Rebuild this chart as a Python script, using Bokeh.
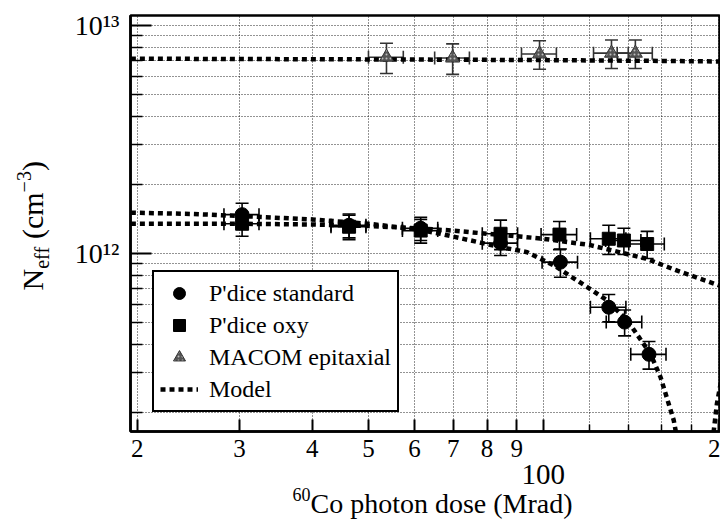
import math
from bokeh.plotting import figure
from bokeh.layouts import gridplot
from bokeh.models import (ColumnDataSource, Whisker, TeeHead, FixedTicker, Legend,
                          LegendItem, Label, Range1d)
from bokeh.embed import file_html
from bokeh.resources import INLINE

FONT = "Liberation Serif"

# ---------------- data ----------------
# P'dice standard (circles)
std_dose = [30.3, 46.3, 61.5, 84.4, 107.0, 129.6, 138.0, 152.0]
std_neff = [1.48e12, 1.33e12, 1.29e12, 1.11e12, 9.16e11, 5.81e11, 5.00e11, 3.61e11]
std_dose_err = [2.1, 3.2, 4.3, 5.9, 7.5, 9.1, 9.7, 10.6]
std_neff_err = [0.18e12, 0.16e12, 0.15e12, 0.13e12, 0.13e12, 0.08e12, 0.065e12, 0.05e12]

# P'dice oxy (squares)
oxy_dose = [30.3, 46.3, 61.5, 84.4, 106.6, 129.6, 137.6, 150.9]
oxy_neff = [1.35e12, 1.31e12, 1.26e12, 1.22e12, 1.21e12, 1.16e12, 1.14e12, 1.10e12]
oxy_dose_err = [2.1, 3.2, 4.3, 5.9, 7.5, 9.1, 9.6, 10.6]
oxy_neff_err = [0.16e12, 0.16e12, 0.15e12, 0.18e12, 0.17e12, 0.17e12, 0.15e12, 0.15e12]

# MACOM epitaxial (triangles)
mac_dose = [53.7, 69.8, 98.5, 131.0, 144.0]
mac_neff = [7.26e12, 7.20e12, 7.50e12, 7.56e12, 7.56e12]
mac_dose_err = [3.7, 4.8, 6.8, 9.0, 10.0]
mac_neff_err = [1.10e12, 1.10e12, 1.07e12, 1.08e12, 1.08e12]

# Model curves
model_std_dose = [19.5, 25, 30, 40, 50, 60, 66.5, 75, 84.4, 93.8, 104.3, 119.0,
                  128.8, 139.5, 152.9, 159.1, 167.7, 172.0]
model_std_neff = [1.51e12, 1.49e12, 1.46e12, 1.41e12, 1.35e12, 1.28e12, 1.22e12,
                  1.14e12, 1.066e12, 1.013e12, 8.86e11, 7.12e11, 6.22e11, 5.08e11,
                  3.63e11, 2.87e11, 1.85e11, 1.30e11]
model_std2_dose = [195.5, 199.0, 202.0]
model_std2_neff = [1.50e11, 2.20e11, 2.70e11]
model_oxy_dose = [19.5, 30, 40, 50, 60, 70, 80, 90, 100, 120, 150, 170, 202]
model_oxy_neff = [1.35e12, 1.35e12, 1.34e12, 1.32e12, 1.29e12, 1.26e12, 1.22e12,
                  1.19e12, 1.16e12, 1.09e12, 9.5e11, 8.4e11, 7.2e11]
model_mac_dose = [19.5, 50, 100, 150, 202]
model_mac_neff = [7.15e12, 7.10e12, 7.05e12, 7.00e12, 6.95e12]

# Axis ticks
x_ticks = [20, 30, 40, 50, 60, 70, 80, 90, 100, 200]
x_tick_labels = ["2", "3", "4", "5", "6", "7", "8", "9", "", "2"]
x_minor = [120, 140, 160, 180]
x_decade_tick = [100]
x_decade_label = ["100"]
y_ticks = [10**12, 10**13]
y_tick_labels = ["10\u00b9\u00b2", "10\u00b9\u00b3"]
y_minor = [m * 10**11 for m in range(2, 10)] + [m * 10**12 for m in range(2, 10)]

# ---------------- layout geometry (page pixels) ----------------
W, H = 720, 526
TW = 60              # left strip (rotated y title)
FL, FT, FB = 130, 15, 431   # frame left / top / bottom on the page
TOP_H = FB + 2       # height of the upper row
BOT_H = H - TOP_H    # bottom strip (x tick labels, "100", x title)
BASE_SHIFT = 0.3375  # label anchor correction (fraction of font size)

# ---------------- main figure ----------------
xr = Range1d(19.47, 201.8)
p = figure(width=W - TW, height=TOP_H, x_axis_type="log", y_axis_type="log",
           x_range=xr, y_range=Range1d(1.656e11, 1.106e13), title=None,
           output_backend="svg", toolbar_location=None,
           min_border_left=FL - TW, min_border_right=0, min_border_top=FT,
           min_border_bottom=TOP_H - FB)
p.background_fill_color = "white"
p.border_fill_color = "white"
p.outline_line_color = "black"
p.outline_line_width = 2.5

for g in (p.xgrid, p.ygrid):
    g.grid_line_color = "black"
    g.grid_line_width = 1
    g.grid_line_dash = "1 2"
    g.grid_line_alpha = 0.85
    g.minor_grid_line_color = "black"
    g.minor_grid_line_width = 1
    g.minor_grid_line_dash = "1 2"
    g.minor_grid_line_alpha = 0.85

xa = p.xaxis[0]
xa.ticker = FixedTicker(ticks=x_ticks, minor_ticks=x_minor)
# the x tick labels are drawn in the strip below the plot
xa.major_label_overrides = {t: "" for t in x_ticks}
xa.major_label_text_font_size = "0px"
xa.major_label_text_alpha = 0
xa.major_label_standoff = 0
xa.major_tick_in = 12
xa.major_tick_out = 0
xa.minor_tick_in = 7
xa.minor_tick_out = 0
xa.major_tick_line_width = 2
xa.minor_tick_line_width = 1.5
xa.axis_line_width = 2.5

ya = p.yaxis[0]
ya.ticker = FixedTicker(ticks=y_ticks, minor_ticks=y_minor)
ya.major_label_overrides = {t: l for t, l in zip(y_ticks, y_tick_labels)}
ya.major_tick_in = 21
ya.major_tick_out = 0
ya.minor_tick_in = 12
ya.minor_tick_out = 0
ya.major_tick_line_width = 2
ya.minor_tick_line_width = 1.5
ya.axis_line_width = 2.5
ya.major_label_text_font = FONT
ya.major_label_text_font_size = "28px"
ya.major_label_text_color = "black"
ya.major_label_standoff = 11

# ---------------- model lines ----------------
dash = "5 4"
r_m1 = p.line(model_mac_dose, model_mac_neff, line_color="black", line_width=4.5, line_dash=dash)
r_m2 = p.line(model_std_dose, model_std_neff, line_color="black", line_width=4.5, line_dash=dash)
r_m3 = p.line(model_std2_dose, model_std2_neff, line_color="black", line_width=4.5, line_dash=dash)
r_m4 = p.line(model_oxy_dose, model_oxy_neff, line_color="black", line_width=4.5, line_dash=dash)


# ---------------- data points with error bars ----------------
def add_errors(xs, ys, dxs, dys, color):
    src = ColumnDataSource(dict(
        x=xs, y=ys,
        yl=[y - d for y, d in zip(ys, dys)], yu=[y + d for y, d in zip(ys, dys)],
        xl=[x - d for x, d in zip(xs, dxs)], xu=[x + d for x, d in zip(xs, dxs)]))
    for dim, base, lo, up in (("height", "x", "yl", "yu"), ("width", "y", "xl", "xu")):
        w = Whisker(source=src, base=base, lower=lo, upper=up, dimension=dim,
                    line_color=color, line_width=1.6,
                    lower_head=TeeHead(size=13, line_color=color, line_width=1.6),
                    upper_head=TeeHead(size=13, line_color=color, line_width=1.6))
        p.add_layout(w)
    return src


s_std = add_errors(std_dose, std_neff, std_dose_err, std_neff_err, "black")
s_oxy = add_errors(oxy_dose, oxy_neff, oxy_dose_err, oxy_neff_err, "black")
s_mac = add_errors(mac_dose, mac_neff, mac_dose_err, mac_neff_err, "#333333")

r_std = p.scatter("x", "y", source=s_std, marker="circle", size=14,
                  fill_color="black", line_color="black")
r_oxy = p.scatter("x", "y", source=s_oxy, marker="square", size=13,
                  fill_color="black", line_color="black")
r_mac = p.scatter("x", "y", source=s_mac, marker="triangle", size=14,
                  fill_color="#555555", line_color="#333333",
                  hatch_pattern="dot", hatch_color="#bbbbbb", hatch_scale=4)

# ---------------- legend ----------------
legend = Legend(items=[
    LegendItem(label="P'dice standard", renderers=[r_std]),
    LegendItem(label="P'dice oxy", renderers=[r_oxy]),
    LegendItem(label="MACOM epitaxial", renderers=[r_mac]),
    LegendItem(label="Model", renderers=[r_m1]),
], location=(22, 19), label_text_font=FONT, label_text_font_size="24px",
    label_text_color="black", border_line_color="black", border_line_width=2,
    border_line_alpha=1.0,
    padding=6, spacing=2, label_height=30, glyph_height=30, glyph_width=38,
    label_standoff=11, margin=0, background_fill_color="white",
    background_fill_alpha=1.0)
p.add_layout(legend)

# ---------------- left strip: rotated y title ----------------
# frame aligned with the main frame; data y = distance of a page row from the page bottom
t = figure(width=TW, height=TOP_H, x_range=Range1d(0, TW), y_range=Range1d(H - FB, H - FT),
           title=None, x_axis_location=None, y_axis_location=None, output_backend="svg",
           toolbar_location=None, min_border_left=0, min_border_right=0,
           min_border_top=FT, min_border_bottom=TOP_H - FB)
t.outline_line_color = None
t.grid.visible = False
t.background_fill_color = "white"
t.border_fill_color = "white"
rot = math.pi / 2
# (text, baseline x on page, start y on page, font size in px)
y_title_parts = [("N", 42, 290, 30), ("eff", 48, 268.3, 20),
                 ("(cm", 42, 238.6, 30), ("\u22123", 30, 191.9, 20),
                 (")", 42, 170.6, 30)]
for txt, xx, yy, fs in y_title_parts:
    t.add_layout(Label(x=xx - BASE_SHIFT * fs, y=H - yy, text=txt, angle=rot,
                       text_font=FONT, text_font_size=f"{fs}px", text_color="black",
                       text_baseline="alphabetic", text_align="left"))

# ---------------- bottom strip: x tick labels, "100", x title ----------------
b = figure(width=W - TW, height=BOT_H, x_axis_type="log", x_range=xr,
           y_range=Range1d(0, BOT_H), title=None, x_axis_location=None,
           y_axis_location=None, output_backend="svg", toolbar_location=None,
           min_border_left=FL - TW, min_border_right=0, min_border_top=0,
           min_border_bottom=0)
b.outline_line_color = None
b.grid.visible = False
b.background_fill_color = "white"
b.border_fill_color = "white"


def by(page_y, fs):
    return H - page_y + BASE_SHIFT * fs


for tk, lb in zip(x_ticks, x_tick_labels):
    if lb:
        b.add_layout(Label(x=tk, y=by(456, 25), x_units="data", y_units="data", text=lb,
                           x_offset=-4 if tk == x_ticks[-1] else 0,
                           text_align="center", text_baseline="alphabetic",
                           text_font=FONT, text_font_size="25px", text_color="black"))
for tk, lb in zip(x_decade_tick, x_decade_label):
    b.add_layout(Label(x=tk, y=by(484, 29), x_units="data", y_units="data", text=lb,
                       text_align="center", text_baseline="alphabetic",
                       text_font=FONT, text_font_size="29px", text_color="black"))
# x title: superscript 60 + "Co photon dose (Mrad)"
b.add_layout(Label(x=292 - FL, y=by(500, 18), x_units="screen", y_units="data", text="60",
                   text_font=FONT, text_font_size="18px", text_color="black",
                   text_baseline="alphabetic"))
b.add_layout(Label(x=310 - FL, y=by(512, 28), x_units="screen", y_units="data",
                   text="Co photon dose (Mrad)", text_font=FONT,
                   text_font_size="28px", text_color="black",
                   text_baseline="alphabetic"))

layout = gridplot([[t, p], [None, b]], toolbar_location=None)
open("out.html", "w").write(file_html(layout, INLINE))
